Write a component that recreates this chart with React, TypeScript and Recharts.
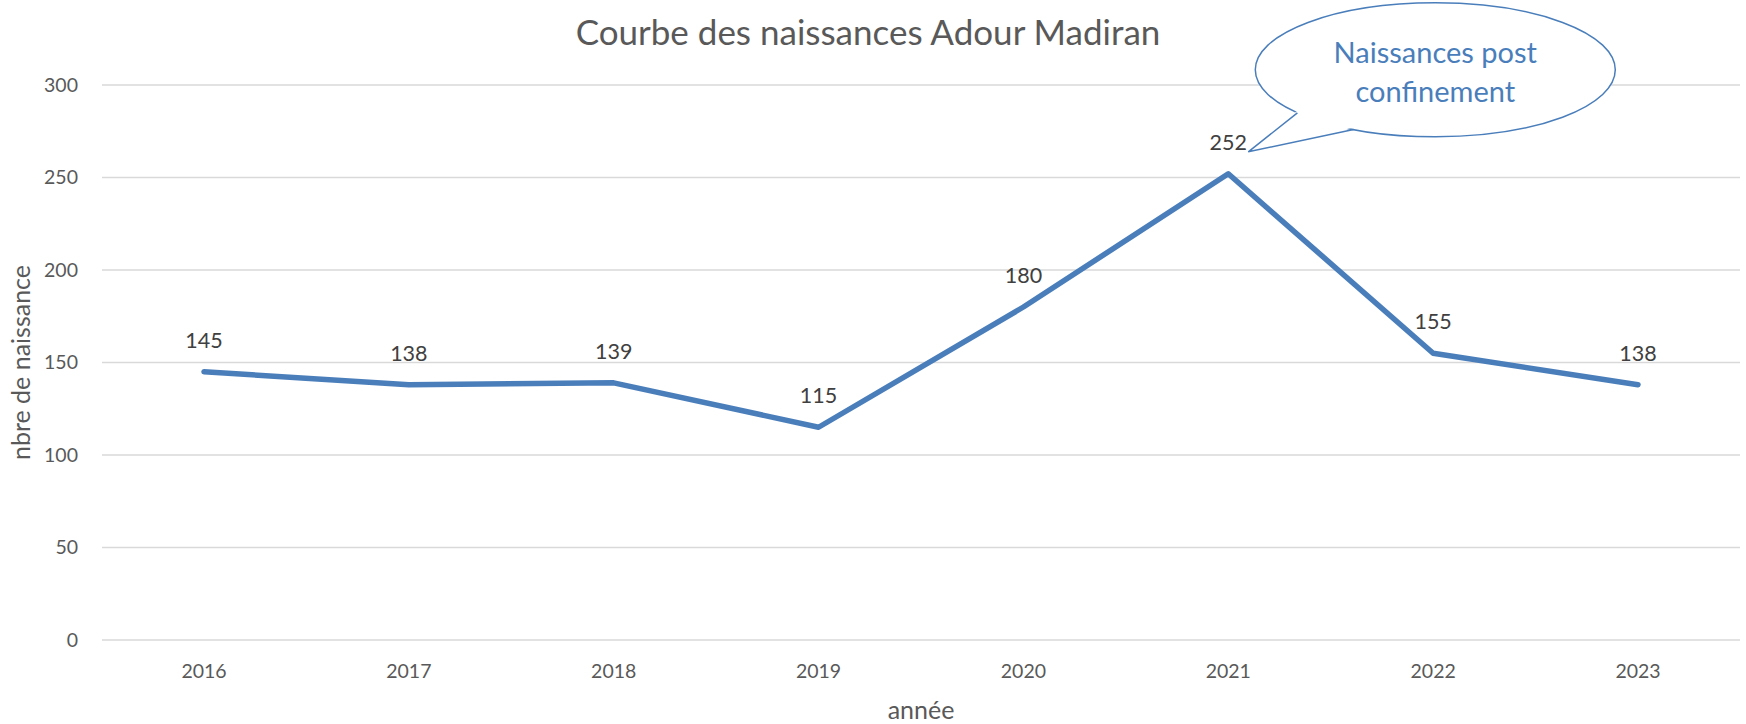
import React from 'react';
import { CartesianGrid, LabelList, Line, LineChart, XAxis, YAxis } from 'recharts';

document.body.style.margin = '0';

const years = ['2016', '2017', '2018', '2019', '2020', '2021', '2022', '2023'];
const births = [145, 138, 139, 115, 180, 252, 155, 138];
const yTicks = [0, 50, 100, 150, 200, 250, 300];
const calloutIndex = 5;
const calloutLines = ['Naissances post', 'confinement'];

const data = years.map((year, i) => ({ year, births: births[i] }));

const FONT = 'Lato, "Open Sans", sans-serif';
const BLUE = '#4A7EBB';

const PointLabel = (props: any) => {
    const x = props.x ?? props.viewBox?.x;
    const y = props.y ?? props.viewBox?.y;
    const { value, index } = props;
    return (
        <g>
            <text x={x} y={y - 32} textAnchor="middle" dominantBaseline="central"
                fontFamily={FONT} fontSize={21.5} fill="#404040">
                {value}
            </text>
            {index === calloutIndex && <Callout x={x} y={y} />}
        </g>
    );
};

// speech bubble anchored on the 2021 point
const Callout = ({ x, y }: { x: number; y: number }) => {
    const cx = x + 207;
    const cy = y - 104;
    const rx = 180;
    const ry = 67;
    const at = (deg: number) => {
        const a = (deg * Math.PI) / 180;
        return [cx + rx * Math.cos(a), cy + ry * Math.sin(a)];
    };
    const b1 = at(140);
    const b2 = at(117);
    const tip = [x + 20, y - 22];
    return (
        <g>
            <ellipse cx={cx} cy={cy} rx={rx} ry={ry} fill="#fff" stroke={BLUE} strokeWidth={1.5} />
            <polygon points={`${b1[0]},${b1[1] - 2} ${tip[0]},${tip[1]} ${b2[0]},${b2[1] - 2}`} fill="#fff" />
            <polyline points={`${b1[0]},${b1[1]} ${tip[0]},${tip[1]} ${b2[0]},${b2[1]}`}
                fill="none" stroke={BLUE} strokeWidth={1.5} />
            {calloutLines.map((t, i) => (
                <text key={t} x={cx} y={cy - 18 + i * 39} textAnchor="middle" dominantBaseline="central"
                    fontFamily={FONT} fontSize={29} fill={BLUE}>
                    {t}
                </text>
            ))}
        </g>
    );
};

const App = () => {
    return (
        <div style={{ position: 'relative', width: 1746, height: 724, background: '#fff' }}>
            <div style={{
                position: 'absolute', left: 468, top: 9, width: 800, textAlign: 'center',
                fontFamily: FONT, fontSize: 35, color: '#595959', lineHeight: '44px', zIndex: 1,
            }}>
                Courbe des naissances Adour Madiran
            </div>
            <LineChart width={1746} height={724} data={data}
                margin={{ top: 85, right: 6, bottom: 0, left: 0 }}>
                <CartesianGrid vertical={false} stroke="#d9d9d9" strokeWidth={1.5} />
                <XAxis dataKey="year" height={84} axisLine={false} tickLine={false} tickSize={0}
                    tickMargin={24} padding={{ left: 102, right: 102 }}
                    tick={{ fontFamily: FONT, fontSize: 19.5, fill: '#595959' }}
                    label={({ viewBox }: any) => (
                        <text x={viewBox.x + viewBox.width / 2} y={viewBox.y + 69} textAnchor="middle"
                            dominantBaseline="central" fontFamily={FONT} fontSize={25} fill="#595959">
                            année
                        </text>
                    )} />
                <YAxis width={102} domain={[0, 300]} ticks={yTicks} axisLine={false} tickLine={false}
                    tickSize={0} tickMargin={24}
                    tick={{ fontFamily: FONT, fontSize: 19.5, fill: '#595959' }}
                    label={({ viewBox }: any) => (
                        <text x={viewBox.x + 20} y={viewBox.y + viewBox.height / 2} textAnchor="middle"
                            dominantBaseline="central" fontFamily={FONT} fontSize={25} fill="#595959"
                            transform={`rotate(-90 ${viewBox.x + 20} ${viewBox.y + viewBox.height / 2})`}>
                            nbre de naissance
                        </text>
                    )} />
                <Line type="linear" dataKey="births" stroke={BLUE} strokeWidth={5.5} strokeLinecap="round"
                    strokeLinejoin="round" dot={false} activeDot={false} isAnimationActive={false}>
                    <LabelList dataKey="births" content={<PointLabel />} />
                </Line>
            </LineChart>
        </div>
    );
};

export default App;
